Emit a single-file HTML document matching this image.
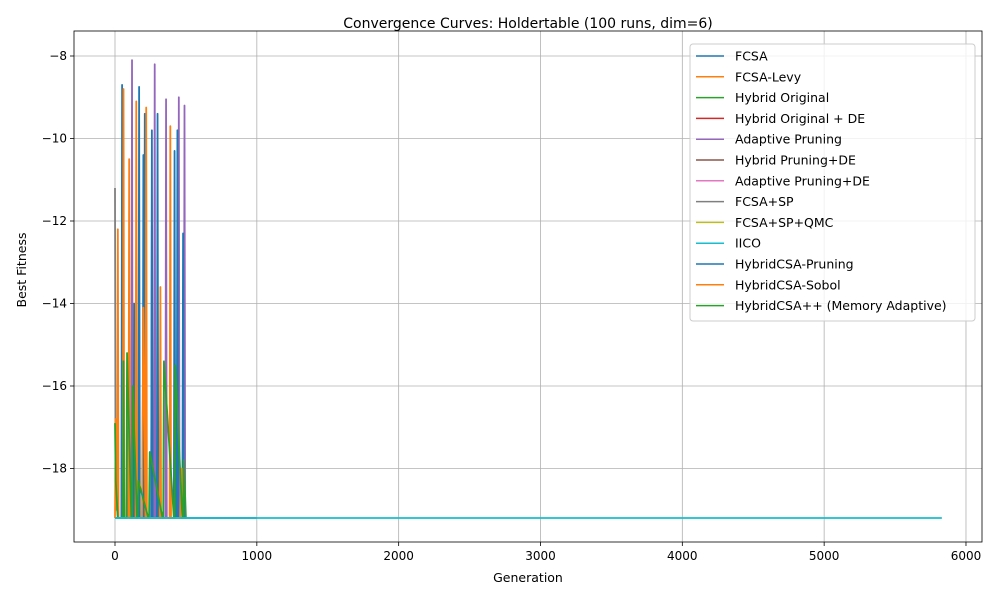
<!DOCTYPE html>
<html><head><meta charset="utf-8"><style>
body{margin:0;background:#fff;font-family:"Liberation Sans","DejaVu Sans",sans-serif}
</style></head><body>
<svg id="c" width="1000" height="600" xmlns="http://www.w3.org/2000/svg" font-family="DejaVu Sans, Liberation Sans, sans-serif"></svg>
<script>
const xTicks=[0,1000,2000,3000,4000,5000,6000];
const yTicks=[-8,-10,-12,-14,-16,-18];
const seriesNames=["FCSA","FCSA-Levy","Hybrid Original","Hybrid Original + DE","Adaptive Pruning","Hybrid Pruning+DE","Adaptive Pruning+DE","FCSA+SP","FCSA+SP+QMC","IICO","HybridCSA-Pruning","HybridCSA-Sobol","HybridCSA++ (Memory Adaptive)"];
const seriesColors=["#1f77b4","#ff7f0e","#2ca02c","#d62728","#9467bd","#8c564b","#e377c2","#7f7f7f","#bcbd22","#17becf","#1f77b4","#ff7f0e","#2ca02c"];
const grayGen=[0,2,4,10,20,40];const grayVal=[-11.2,-15.0,-19.0,-18.8,-19.2,-19.2];
const purpleGen=[100,115,120,125,200,255,260,265,275,280,285,340,355,360,365,440,445,450,455,485,490,495,505];
const purpleVal=[-19.2,-19.2,-8.1,-19.2,-19.2,-19.2,-12.1,-19.2,-19.2,-8.2,-19.2,-19.2,-19.2,-9.05,-19.2,-19.2,-19.2,-9.0,-19.2,-19.2,-9.2,-19.2,-19.2];
const blueGen=[0,45,50,55,90,100,105,130,135,140,165,170,175,195,200,205,210,215,255,260,265,295,300,305,400,415,420,425,435,440,445,475,480,485,495,1000];
const blueVal=[-19.2,-19.2,-8.7,-19.2,-19.2,-14.7,-19.2,-19.2,-14.0,-19.2,-19.2,-8.75,-19.2,-19.2,-10.4,-19.2,-9.4,-19.2,-19.2,-9.8,-19.2,-19.2,-9.4,-19.2,-19.2,-19.2,-10.3,-19.2,-19.2,-9.8,-19.2,-19.2,-12.3,-19.2,-19.2,-19.2];
const orangeGen=[0,5,15,20,25,55,60,65,95,100,105,145,150,155,190,200,215,220,225,315,320,325,385,390,395,460,470,480];
const orangeVal=[-19.2,-16.8,-19.0,-12.2,-19.2,-19.2,-8.8,-19.2,-19.2,-10.5,-19.2,-19.2,-9.1,-19.2,-19.2,-14.1,-19.2,-9.25,-19.2,-19.2,-13.6,-19.2,-19.2,-9.7,-19.2,-19.2,-18.0,-19.2];
const greenGen=[0,5,20,55,60,65,80,85,115,120,125,155,160,165,235,240,245,335,340,345,415,420,425,475,480,485,500];
const greenVal=[-16.9,-18.3,-19.2,-19.2,-15.4,-19.2,-19.2,-15.2,-19.2,-19.2,-16.0,-19.2,-19.2,-18.3,-19.2,-19.2,-17.6,-19.2,-19.2,-15.4,-19.2,-19.2,-15.5,-19.2,-19.2,-17.8,-19.2];
const cyanGen=[0,5830];const cyanVal=[-19.2,-19.2];

const svg=document.getElementById('c');const NS="http://www.w3.org/2000/svg";
const L=74,R=982,T=31,B=542;
const sx=g=>115+g*0.14183;
const sy=v=>56+(-8-v)*41.25;
function mk(tag,attrs,parent){const e=document.createElementNS(NS,tag);for(const k in attrs)e.setAttribute(k,attrs[k]);(parent||svg).appendChild(e);return e;}
mk('rect',{x:0,y:0,width:1000,height:600,fill:'#fff'});
const grid=mk('g',{});


xTicks.forEach(t=>{const x=sx(t);mk('line',{x1:x,x2:x,y1:T,y2:B,stroke:'#b0b0b0','stroke-width':0.8},grid);mk('line',{x1:x,x2:x,y1:B,y2:B+4,stroke:'#000','stroke-width':0.8});
const tx=mk('text',{x:x,y:B+18,'text-anchor':'middle','font-size':12});tx.textContent=t;

});
yTicks.forEach(t=>{const y=sy(t);mk('line',{x1:L,x2:R,y1:y,y2:y,stroke:'#b0b0b0','stroke-width':0.8},grid);mk('line',{x1:L-4,x2:L,y1:y,y2:y,stroke:'#000','stroke-width':0.8});
const tx=mk('text',{x:L-7,y:y+4,'text-anchor':'end','font-size':12});tx.textContent='\u2212'+Math.abs(t);

});
function line(g,v,color,name){const p=mk('polyline',{points:g.map((d,i)=>sx(d)+','+sy(v[i])).join(' '),fill:'none',stroke:color,'stroke-width':1.8,'stroke-linejoin':'round'});

}
line(grayGen,grayVal,'#7f7f7f','series-fcsa-sp');
line(purpleGen,purpleVal,'#9467bd','series-adaptive-pruning');
line(blueGen,blueVal,'#1f77b4','series-fcsa');
line(orangeGen,orangeVal,'#ff7f0e','series-fcsa-levy');
line(greenGen,greenVal,'#2ca02c','series-hybrid-original');
line(cyanGen,cyanVal,'#17becf','series-iico');
mk('rect',{x:L,y:T,width:R-L,height:B-T,fill:'none',stroke:'#000','stroke-width':0.8});
const ti=mk('text',{x:528,y:28,'text-anchor':'middle','font-size':14});ti.textContent='Convergence Curves: Holdertable (100 runs, dim=6)';

const xl=mk('text',{x:528,y:582,'text-anchor':'middle','font-size':12.5});xl.textContent='Generation';

const yl=mk('text',{x:26,y:270,'text-anchor':'middle','font-size':12.5,transform:'rotate(-90 26 270)'});yl.textContent='Best Fitness';

const lg=mk('g',{});


mk('rect',{x:690,y:44,width:285,height:277,rx:3,fill:'#fff','fill-opacity':0.8,stroke:'#ccc'},lg);
seriesNames.forEach((n,i)=>{const y=56+i*20.8;
mk('line',{x1:696,x2:724,y1:y,y2:y,stroke:seriesColors[i],'stroke-width':1.5},lg);
const t=mk('text',{x:735,y:y+4.5,'font-size':12.5},lg);t.textContent=n;

});
</script>
</body></html>
